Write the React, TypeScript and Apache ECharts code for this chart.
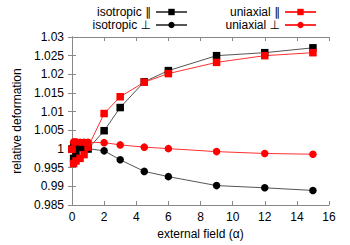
import React, { useEffect, useRef } from "react";
import * as echarts from "echarts";

const fieldValues = [0, 0.1, 0.25, 0.5, 0.75, 1, 2, 3, 4.5, 6, 9, 12, 15];
const isoParallel = [1.0, 0.9975, 0.999, 1.0005, 1.0003, 1.0, 1.0049, 1.0111, 1.018, 1.021, 1.025, 1.0258, 1.0271];
const isoPerp = [1.0, 1.0012, 1.001, 1.0006, 1.0003, 1.0001, 0.9995, 0.9971, 0.994, 0.9926, 0.9902, 0.9896, 0.9889];
const uniParallel = [0.9999, 0.9961, 0.9968, 0.9975, 0.9985, 1.0005, 1.0095, 1.014, 1.0179, 1.0202, 1.0232, 1.025, 1.0258];
const uniPerp = [1.0, 1.0019, 1.0019, 1.0018, 1.0018, 1.0018, 1.0017, 1.0011, 1.0005, 1.0001, 0.9993, 0.9988, 0.9986];

const seriesNames = ["isotropic ∥", "isotropic ⊥", "uniaxial ∥", "uniaxial ⊥"];

const FONT = "'Liberation Sans', 'DejaVu Sans', Arial, sans-serif";

export default function App() {
  const ref = useRef<HTMLDivElement>(null);
  useEffect(() => {
    if (!ref.current) return;
    const chart = echarts.init(ref.current, null, { renderer: "svg" });
    const pair = (ys: number[]) => fieldValues.map((x, i) => [x, ys[i]]);
    const mk = (name: string, ys: number[], color: string, lineColor: string, symbol: string, size: number) => ({
      name,
      type: "line",
      data: pair(ys),
      symbol,
      symbolSize: size,
      showSymbol: true,
      itemStyle: { color },
      lineStyle: { color: lineColor, width: 1 },
      emphasis: { disabled: true },
    });
    const axisCommon = {
      axisLine: { show: true, lineStyle: { color: "#888", width: 1 } },
      axisTick: { show: true, inside: true, length: 4, lineStyle: { color: "#888" } },
      splitLine: { show: false },
    };
    const legendText = { fontFamily: FONT, fontSize: 12, color: "#000" };
    chart.setOption({
      animation: false,
      textStyle: { fontFamily: FONT },
      legend: [
        {
          data: [seriesNames[0], seriesNames[1]],
          orient: "vertical",
          align: "right",
          right: 157,
          top: 1,
          itemWidth: 31,
          itemHeight: 8,
          itemGap: 1,
          textStyle: legendText,
          selectedMode: false,
        },
        {
          data: [seriesNames[2], seriesNames[3]],
          orient: "vertical",
          align: "right",
          right: 28,
          top: 1,
          itemWidth: 31,
          itemHeight: 8,
          itemGap: 1,
          textStyle: legendText,
          selectedMode: false,
        },
      ],
      grid: { left: 72, right: 21, top: 37, bottom: 38, containLabel: false },
      xAxis: [
        {
          type: "value",
          min: 0,
          max: 16,
          interval: 2,
          name: "external field (α)",
          nameLocation: "middle",
          nameGap: 23,
          nameTextStyle: { fontFamily: FONT, fontSize: 12, color: "#000" },
          axisLabel: { fontFamily: FONT, fontSize: 12, color: "#000", margin: 6 },
          ...axisCommon,
        },
        {
          type: "value",
          position: "top",
          min: 0,
          max: 16,
          interval: 2,
          axisLabel: { show: false },
          ...axisCommon,
        },
      ],
      yAxis: [
        {
          type: "value",
          min: 0.985,
          max: 1.03,
          interval: 0.005,
          name: "relative deformation",
          nameLocation: "middle",
          nameGap: 48,
          nameTextStyle: { fontFamily: FONT, fontSize: 12, color: "#000" },
          axisLabel: {
            fontFamily: FONT,
            fontSize: 12,
            color: "#000",
            margin: 8,
            formatter: (v: number) => String(parseFloat(v.toFixed(4))),
          },
          ...axisCommon,
        },
        {
          type: "value",
          position: "right",
          min: 0.985,
          max: 1.03,
          interval: 0.005,
          axisLabel: { show: false },
          ...axisCommon,
        },
      ],
      series: [
        mk(seriesNames[0], isoParallel, "#000", "#555", "rect", 7.5),
        mk(seriesNames[1], isoPerp, "#000", "#555", "circle", 7.5),
        mk(seriesNames[2], uniParallel, "#ff0000", "#ff3030", "rect", 7.5),
        mk(seriesNames[3], uniPerp, "#ff0000", "#ff3030", "circle", 7.5),
      ],
    });
    return () => chart.dispose();
  }, []);
  return <div ref={ref} style={{ width: 350, height: 245, position: "absolute", left: 0, top: 0 }} />;
}
